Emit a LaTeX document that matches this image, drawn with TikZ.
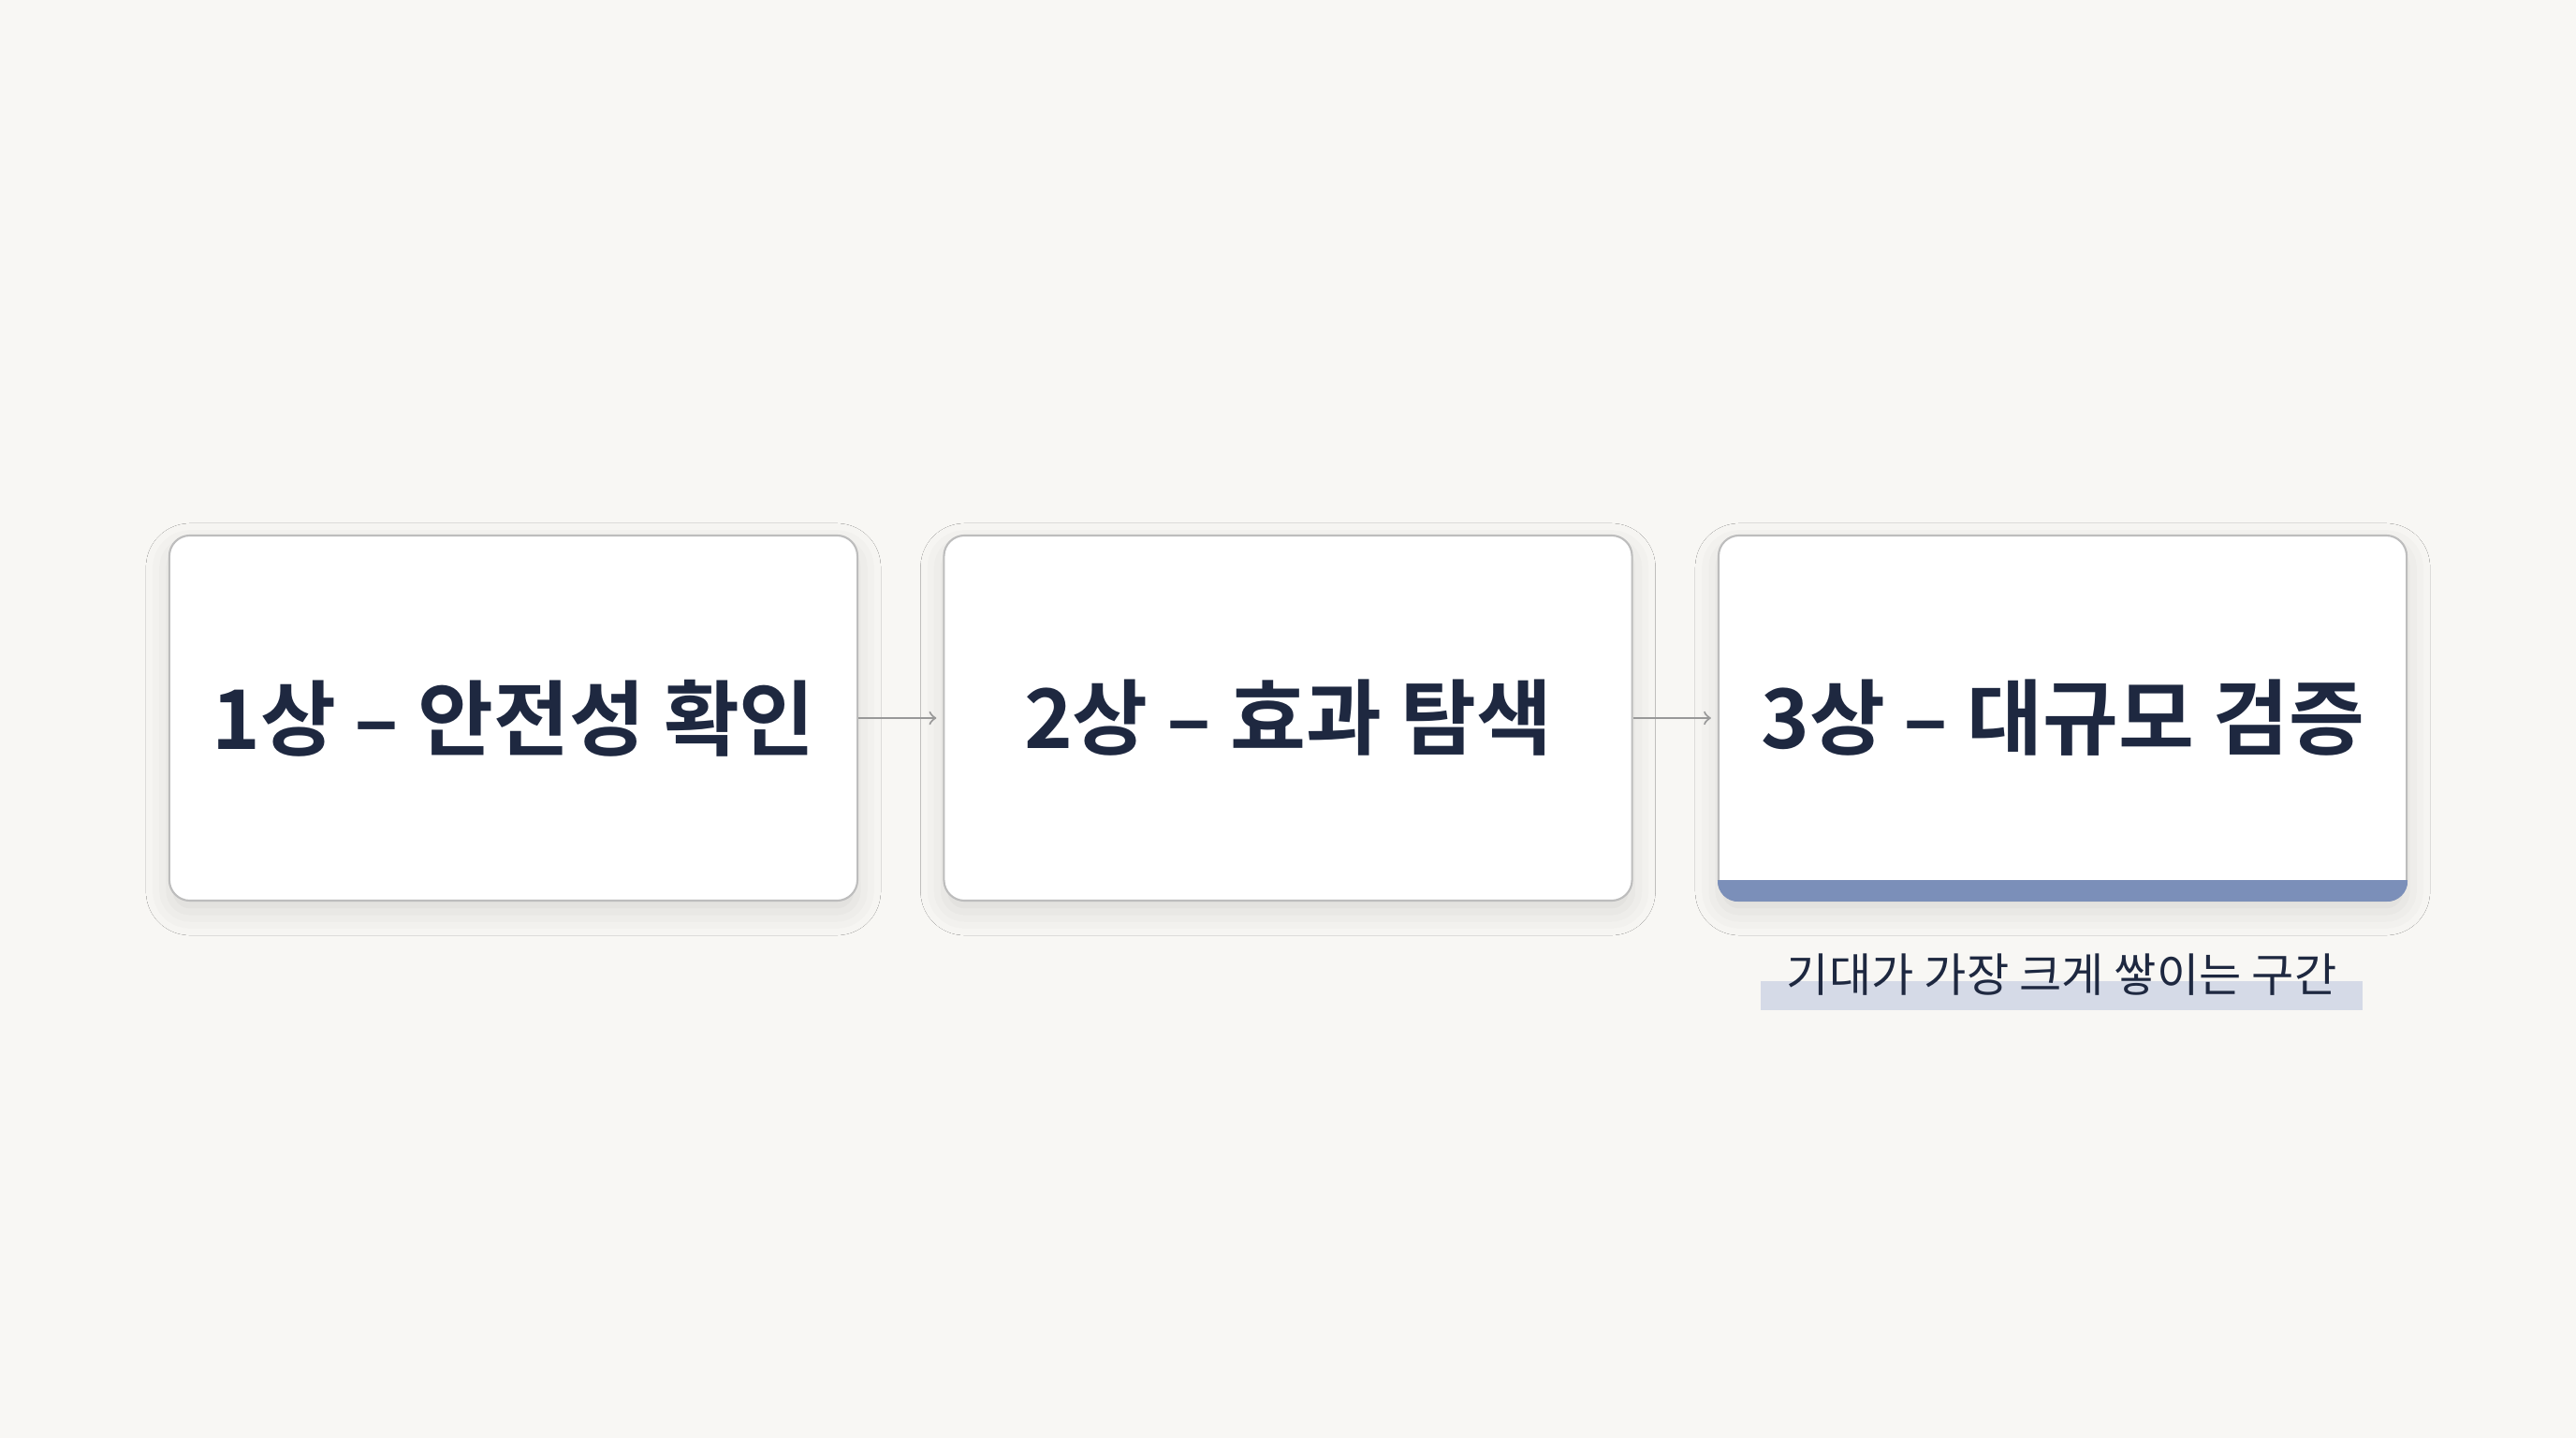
\documentclass[tikz,border=0pt]{standalone}
\usepackage{fontspec}
\usepackage{xcolor}
\usetikzlibrary{shadows.blur}
\newfontfamily\krfont{Noto Sans CJK KR}
\newfontfamily\krbold{Noto Sans CJK KR Bold}
\definecolor{pagebg}{HTML}{F8F7F4}
\definecolor{inkblue}{HTML}{1E2840}
\definecolor{barblue}{HTML}{7B8FB9}
\definecolor{markblue}{HTML}{D5DAE7}
\definecolor{edgegray}{HTML}{BDBDBD}
\tikzset{
  phase/.style={draw=edgegray, line width=0.6pt, fill=white, rounded corners=0.22cm,
    minimum width=7.35cm, minimum height=3.9cm,
    blur shadow={shadow xshift=0pt, shadow yshift=-0.12cm, shadow blur radius=0.25cm, shadow opacity=12},
    font=\krbold\fontsize{25}{30}\selectfont, text=inkblue},
  flow/.style={->, draw=gray!80, line width=0.6pt, shorten >=2pt}
}
\begin{document}
\begin{tikzpicture}[x=0.01755cm, y=-0.01755cm]
        % Background
        \fill[pagebg] (0,0) rectangle (1568,875);
        \useasboundingbox (0,0) rectangle (1568,875);

        % Phases
        \node[phase] (p1) at (312.5,437) {1상 – 안전성 확인};
        \node[phase] (p2) at (784,437) {2상 – 효과 탐색};
        \node[phase] (p3) at (1255.5,437) {3상 – 대규모 검증};

        % Accent bar
        \begin{scope}
          \clip[rounded corners=0.22cm] (p3.south west) rectangle (p3.north east);
          \fill[barblue] (p3.south west) rectangle ([yshift=0.23cm]p3.south east);
        \end{scope}

        % Note
        \fill[markblue] (1072,597) rectangle (1438,615);
        \node[font=\krfont\fontsize{14}{16}\selectfont, text=inkblue] (note) at (1255,593) {기대가 가장 크게 쌓이는 구간};

        % Connections
        \draw[flow] (p1) -- (p2);
        \draw[flow] (p2) -- (p3);
\end{tikzpicture}
\end{document}
